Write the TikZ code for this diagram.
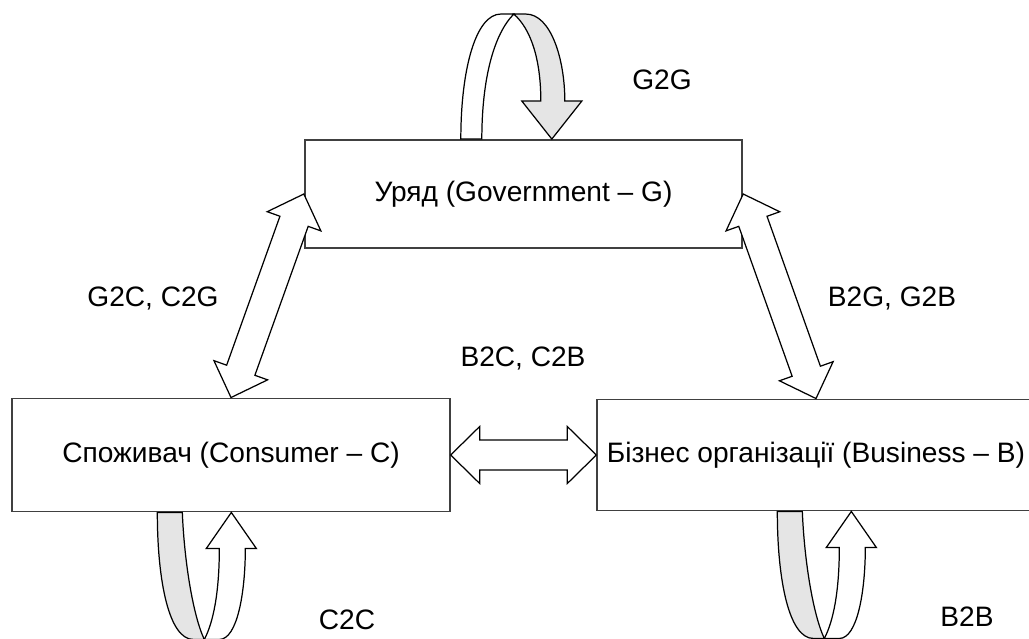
\documentclass[tikz,border=0pt]{standalone}
\usepackage{fontspec}
\setmainfont{Liberation Sans}
\usetikzlibrary{calc}

% sizes of the fat two-way arrows
\newcommand{\headlen}{0.58cm}
\newcommand{\headhalf}{0.57cm}
\newcommand{\shafthalf}{0.3cm}

% fat hollow arrow with a head at both ends, from #1 to #2
\newcommand{\twowayarrow}[2]{%
  \draw[hollowarrow] (#1)
    -- ($(#1)!\headlen!(#2)!\headhalf!90:(#2)$)
    -- ($(#1)!\headlen!(#2)!\shafthalf!90:(#2)$)
    -- ($(#2)!\headlen!(#1)!\shafthalf!-90:(#1)$)
    -- ($(#2)!\headlen!(#1)!\headhalf!-90:(#1)$)
    -- (#2)
    -- ($(#2)!\headlen!(#1)!\headhalf!90:(#1)$)
    -- ($(#2)!\headlen!(#1)!\shafthalf!90:(#1)$)
    -- ($(#1)!\headlen!(#2)!\shafthalf!-90:(#2)$)
    -- ($(#1)!\headlen!(#2)!\headhalf!-90:(#2)$)
    -- cycle;}

\begin{document}
\begin{tikzpicture}[x=0.02cm, y=-0.02cm]
        % Define styles
        \tikzset{
            box/.style={rectangle, draw=black!75, line width=1.1pt, minimum width=8.75cm, inner sep=0pt, font=\fontsize{16}{19}\selectfont},
            tag/.style={font=\fontsize{16}{19}\selectfont},
            hollowarrow/.style={draw=black, fill=white, line width=0.7pt},
            loopback/.style={draw=black, fill=white, line width=0.7pt},
            loopfront/.style={draw=black, fill=gray!20, line width=0.7pt}
        }
        \useasboundingbox (0,0) rectangle (1029,639);
        \clip (0,0) rectangle (1029,639);

        % Boxes
        \node[box, minimum height=2.16cm] (gov) at (523.5,194) {Уряд (Government – G)};
        \node[box, minimum height=2.26cm] (cons) at (231,455) {Споживач (Consumer – C)};
        \node[box, minimum height=2.22cm] (bus) at (816,455) {Бізнес організації (Business – B)};

        % Labels
        \node[tag] (g2g) at (662,80) {G2G};
        \node[tag] (g2c) at (153,298) {G2C, C2G};
        \node[tag] (b2g) at (892,298) {B2G, G2B};
        \node[tag] (b2c) at (523,358) {B2C, C2B};
        \node[tag] (c2c) at (347,620) {C2C};
        \node[tag] (b2b) at (967,617) {B2B};

        % Two-way arrows
        \twowayarrow{gov.west}{cons.north}
        \twowayarrow{gov.east}{bus.north}
        \twowayarrow{cons.east}{bus.west}

        % G2G loop
        \begin{scope}[shift={($(gov.north west)+(157,0)$)}, yscale=-1]
            \filldraw[loopback] (0,0) .. controls (0,70) and (15,125) .. (40,125)
                -- (53,125) .. controls (33,105) and (21,60) .. (21,0) -- cycle;
            \filldraw[loopfront] (53,125) -- (65,125) .. controls (90,125) and (104,80) .. (104,38)
                -- (121,38) -- (91,0) -- (61,38) -- (80,38)
                .. controls (80,80) and (70,110) .. (53,125) -- cycle;
        \end{scope}

        % C2C loop
        \begin{scope}[shift={($(cons.south west)+(146,0)$)}]
            \filldraw[loopfront] (0,0) .. controls (0,70) and (12,127) .. (36,127)
                -- (47,127) .. controls (36,104) and (27,50) .. (25,0) -- cycle;
            \filldraw[loopback] (47,127) -- (62,127) .. controls (80,127) and (88,80) .. (88,36)
                -- (99,36) -- (74,0) -- (49,36) -- (62,36)
                .. controls (62,80) and (56,110) .. (47,127) -- cycle;
        \end{scope}

        % B2B loop
        \begin{scope}[shift={($(bus.south west)+(181,0)$)}]
            \filldraw[loopfront] (0,0) .. controls (0,70) and (12,127) .. (36,127)
                -- (47,127) .. controls (36,104) and (27,50) .. (25,0) -- cycle;
            \filldraw[loopback] (47,127) -- (62,127) .. controls (80,127) and (88,80) .. (88,36)
                -- (99,36) -- (74,0) -- (49,36) -- (62,36)
                .. controls (62,80) and (56,110) .. (47,127) -- cycle;
        \end{scope}
\end{tikzpicture}
\end{document}
